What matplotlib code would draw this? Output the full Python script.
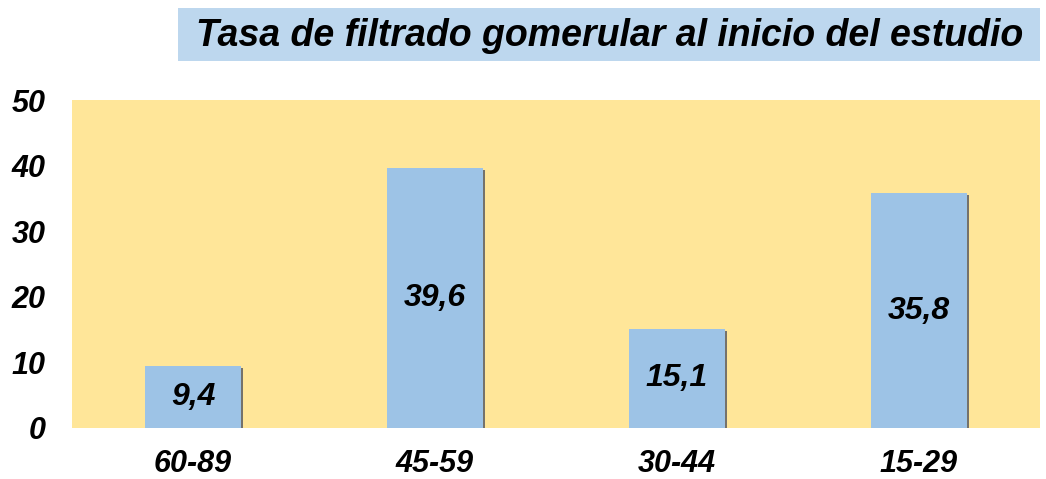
import matplotlib.pyplot as plt
import matplotlib.patheffects as pe
from matplotlib.patches import Rectangle

categories = ['60-89', '45-59', '30-44', '15-29']
values = [9.4, 39.6, 15.1, 35.8]
labels = ['9,4', '39,6', '15,1', '35,8']
yticks = [0, 10, 20, 30, 40, 50]

plt.rcParams['font.family'] = ['Liberation Sans', 'DejaVu Sans']

fig = plt.figure(figsize=(10.46, 4.79), dpi=100)
ax = fig.add_axes([0.0688, 0.1065, 0.9254, 0.6845])
ax.set_facecolor('#FFE699')

x = range(len(categories))
bars = ax.bar(x, values, width=0.40, color='#9DC3E6', zorder=3,
              path_effects=[pe.SimplePatchShadow(offset=(1.5, -1.5), shadow_rgbFace='#666666', alpha=0.9), pe.Normal()])
for b, lab in zip(bars, labels):
    ax.text(b.get_x() + b.get_width() / 2, b.get_height() / 2, lab,
            ha='center', va='center', fontsize=23, fontweight='bold', style='italic', zorder=4)

ax.set_xlim(-0.5, len(categories) - 0.5)
ax.set_ylim(0, 50)
ax.set_yticks(yticks)
ax.set_yticklabels([str(t) for t in yticks], fontsize=22, fontweight='bold', style='italic')
ax.set_xticks(list(x))
ax.set_xticklabels(categories, fontsize=22, fontweight='bold', style='italic')
ax.tick_params(axis='both', length=0)
ax.tick_params(axis='y', pad=19)
ax.tick_params(axis='x', pad=15)
for s in ax.spines.values():
    s.set_visible(False)

# title box
fig.patches.append(Rectangle((178 / 1046, 1 - 61 / 479), 862 / 1046, 53 / 479,
                             transform=fig.transFigure, facecolor='#BDD7EE', edgecolor='none'))
fig.text(610 / 1046, 1 - 36 / 479, 'Tasa de filtrado gomerular al inicio del estudio',
         ha='center', va='center', fontsize=27, fontweight='bold', style='italic')

plt.savefig('out.png', dpi=100)
